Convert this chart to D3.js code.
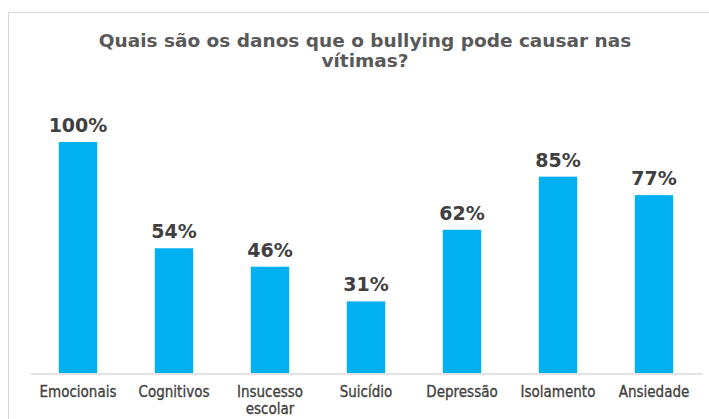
<!DOCTYPE html>
<html>
<head>
<meta charset="utf-8">
<script src="https://cdn.jsdelivr.net/npm/d3@7"></script>
<style>
  body { margin: 0; background: #fff; }
  svg { display: block; }
  .title { font-family: "DejaVu Sans", Verdana, sans-serif; font-weight: bold; fill: #595959; }
  .val { font-family: "DejaVu Sans", Verdana, sans-serif; font-weight: bold; fill: #404040; }
  .cat text { font-family: "DejaVu Sans Condensed", "Liberation Sans Narrow", sans-serif; fill: #404040; stroke: #404040; stroke-width: 0.3; }
</style>
</head>
<body>
<div id="chart"></div>
<script>

var categories = ['Emocionais', 'Cognitivos', 'Insucesso escolar', 'Suicídio', 'Depressão', 'Isolamento', 'Ansiedade'];
var values = [100, 54, 46, 31, 62, 85, 77];
var titleLines = ['Quais são os danos que o bullying pode causar nas', 'vítimas?'];

var settings = { width: 709, height: 419, left: 30, right: 7, baseline: 373, top100: 142 };

var svg = d3.select('#chart').append('svg')
  .attr('width', settings.width)
  .attr('height', settings.height);

// chart area frame (runs off the right and bottom edges)
svg.append('rect')
  .attr('x', 8.5).attr('y', 12.5)
  .attr('width', 720).attr('height', 440)
  .attr('fill', '#fff')
  .attr('stroke', '#d9d9d9')
  .attr('stroke-width', 1);

svg.append('text')
  .classed('title', true)
  .attr('text-anchor', 'middle')
  .attr('font-size', 18.5)
  .selectAll('tspan')
  .data(titleLines)
  .enter()
  .append('tspan')
  .attr('x', 365)
  .attr('y', function(d, i) { return 47 + i * 20; })
  .text(function(d) { return d; });

var scaleX = d3.scaleBand()
  .domain(categories)
  .range([settings.left, settings.width - settings.right])
  .paddingInner(0.6)
  .paddingOuter(0.3);

var scaleY = d3.scaleLinear()
  .domain([0, 100])
  .range([settings.baseline, settings.top100]);

svg.selectAll('rect.bar')
  .data(values)
  .enter()
  .append('rect')
  .classed('bar', true)
  .attr('x', function(d, i) { return scaleX(categories[i]); })
  .attr('y', function(d) { return scaleY(d); })
  .attr('width', scaleX.bandwidth())
  .attr('height', function(d) { return settings.baseline - scaleY(d); })
  .attr('fill', '#00b0f0');

svg.selectAll('text.val')
  .data(values)
  .enter()
  .append('text')
  .classed('val', true)
  .attr('text-anchor', 'middle')
  .attr('font-size', 19)
  .attr('x', function(d, i) { return scaleX(categories[i]) + scaleX.bandwidth() / 2; })
  .attr('y', function(d) { return scaleY(d) - 10; })
  .text(function(d) { return d + '%'; });

var axisX = d3.axisBottom(scaleX).tickSize(0).tickPadding(0);
var gx = svg.append('g')
  .classed('cat', true)
  .attr('transform', 'translate(0,' + (settings.baseline + 0.5) + ')')
  .call(axisX);

gx.select('.domain').attr('stroke', '#d9d9d9').attr('stroke-width', 1.5);

gx.selectAll('.tick text')
  .attr('font-size', 15)
  .attr('dy', null)
  .attr('y', 0)
  .text(null)
  .each(function(d) {
    var words = d.split(' ');
    var t = d3.select(this);
    words.forEach(function(w, i) {
      t.append('tspan').attr('x', 0).attr('y', 23 + i * 17).text(w);
    });
  });
</script>
</body>
</html>
